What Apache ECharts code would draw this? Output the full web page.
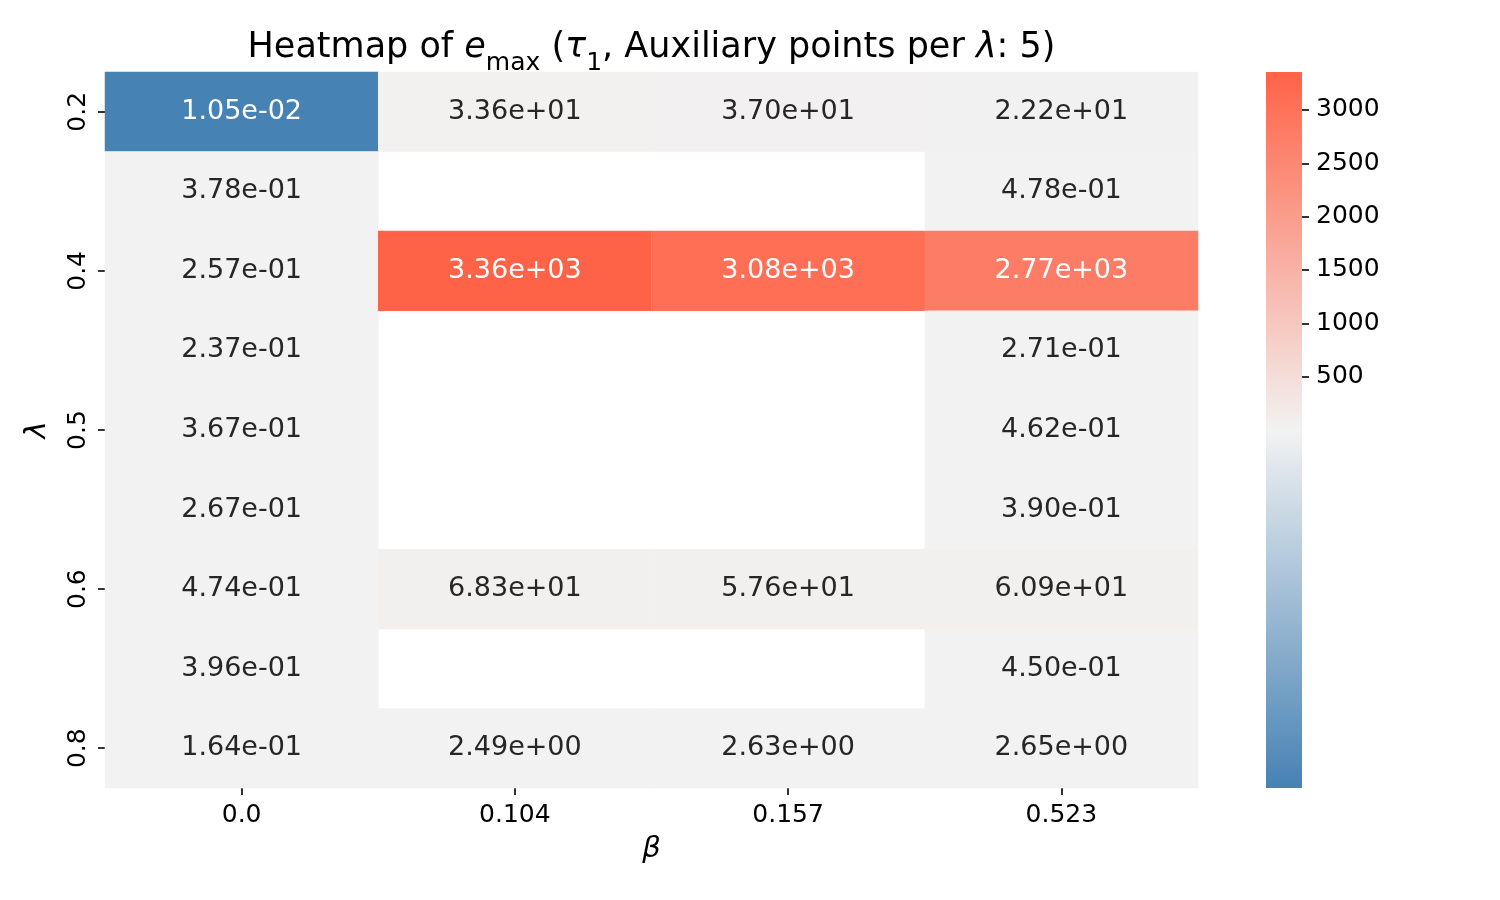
<!DOCTYPE html>
<html><head><meta charset="utf-8">
<script src="https://cdn.jsdelivr.net/npm/echarts@6/dist/echarts.min.js"></script>
<style>html,body{margin:0;padding:0;background:#fff}#chart{width:1500px;height:900px}</style>
</head><body><div id="chart"></div>
<script>
// ---- data ----
const betaLabels = ['0.0', '0.104', '0.157', '0.523'];
const lambdaLabels = ['0.2', '0.25', '0.4', '0.416', '0.5', '0.583', '0.6', '0.75', '0.8'];
// e_max per beta column, rows follow lambdaLabels (null = no value)
const emaxBeta0000 = [1.05e-2, 0.378, 0.257, 0.237, 0.367, 0.267, 0.474, 0.396, 0.164];
const emaxBeta0104 = [33.6, null, 3356, null, null, null, 68.3, null, 2.49];
const emaxBeta0157 = [37.0, null, 3080, null, null, null, 57.6, null, 2.63];
const emaxBeta0523 = [22.2, 0.478, 2770, 0.271, 0.462, 0.390, 60.9, 0.450, 2.65];
const colorbarTicks = [500, 1000, 1500, 2000, 2500, 3000];
const normCenter = 0.1;

const columns = [emaxBeta0000, emaxBeta0104, emaxBeta0157, emaxBeta0523];
const allVals = columns.flat().filter(v => v !== null);
const vmin = Math.min(...allVals), vmax = Math.max(...allVals);
function norm(v) {
  if (v <= normCenter) return 0.5 * (v - vmin) / (normCenter - vmin);
  return 0.5 + 0.5 * (v - normCenter) / (vmax - normCenter);
}
const cLow = [70, 130, 180], cMid = [242, 242, 242], cHigh = [255, 99, 71];
function hex(c) { return '#' + c.map(x => Math.round(x).toString(16).padStart(2, '0')).join(''); }
function cmap(t) {
  const a = t < 0.5 ? cLow : cMid, b = t < 0.5 ? cMid : cHigh, u = t < 0.5 ? t / 0.5 : (t - 0.5) / 0.5;
  return a.map((x, i) => x + (b[i] - x) * u);
}
function lum(c) {
  const l = c.map(x => { x /= 255; return x <= 0.03928 ? x / 12.92 : Math.pow((x + 0.055) / 1.055, 2.4); });
  return 0.2126 * l[0] + 0.7152 * l[1] + 0.0722 * l[2];
}
function fmt(v) {
  return v.toExponential(2).replace(/e([+-])(\d)$/, 'e$10$2');
}
const cells = [];
columns.forEach((col, xi) => col.forEach((v, yi) => {
  if (v === null) return;
  const n = norm(v);
  cells.push({ value: [xi, yi, v, n], label: { color: lum(cmap(n)) < 0.408 ? '#ffffff' : '#262626' } });
}));

const FONT = 'DejaVu Sans';
const chart = echarts.init(document.getElementById('chart'), null, { renderer: 'canvas' });
chart.setOption({
  animation: false,
  backgroundColor: '#ffffff',
  title: {
    left: 651.5, top: 27, textAlign: 'center', padding: 0,
    text: '{n|Heatmap of }{i|e}{s|max}{n| (}{i|τ}{s|1}{n|, Auxiliary points per }{i|λ}{n|: 5)}',
    textStyle: {
      fontWeight: 'normal',
      rich: {
        n: { fontFamily: FONT, fontSize: 35, fontWeight: 'normal', color: '#000', lineHeight: 42 },
        i: { fontFamily: FONT, fontSize: 35, fontWeight: 'normal', fontStyle: 'italic', color: '#000', lineHeight: 42 },
        s: { fontFamily: FONT, fontSize: 25, fontWeight: 'normal', color: '#000', lineHeight: 42, padding: [30, 0, 0, 0] }
      }
    }
  },
  grid: [
    { left: 105, top: 72, width: 1093, height: 716 },
    { left: 1266, top: 72, width: 36, height: 716 }
  ],
  xAxis: [
    {
      type: 'category', data: betaLabels, gridIndex: 0, position: 'bottom',
      axisLine: { show: false },
      axisTick: { show: true, alignWithLabel: true, length: 7, lineStyle: { color: '#000', width: 1.6 } },
      axisLabel: { fontFamily: FONT, fontSize: 25, color: '#000', margin: 15 },
      splitLine: { show: false },
      name: 'β', nameLocation: 'middle', nameGap: 47,
      nameTextStyle: { fontFamily: FONT, fontSize: 29, fontStyle: 'italic', color: '#000' }
    },
    { type: 'category', data: [''], gridIndex: 1, show: false }
  ],
  yAxis: [
    {
      type: 'category', data: lambdaLabels, gridIndex: 0, inverse: true,
      axisLine: { show: false },
      axisTick: { show: true, alignWithLabel: true, length: 7, lineStyle: { color: '#000', width: 1.6 } },
      axisLabel: { fontFamily: FONT, fontSize: 25, color: '#000', margin: 14, rotate: 90 },
      splitLine: { show: false },
      name: 'λ', nameLocation: 'middle', nameGap: 53,
      nameTextStyle: { fontFamily: FONT, fontSize: 29, fontStyle: 'italic', color: '#000' }
    },
    {
      type: 'value', gridIndex: 1, min: 0, max: 1, position: 'right',
      axisLine: { show: false },
      splitLine: { show: false },
      axisTick: { show: true, length: 7, customValues: colorbarTicks.map(norm), lineStyle: { color: '#000', width: 1.6 } },
      axisLabel: {
        customValues: colorbarTicks.map(norm), fontFamily: FONT, fontSize: 25, color: '#000', margin: 14,
        formatter: function (val) {
          let best = colorbarTicks[0];
          colorbarTicks.forEach(t => { if (Math.abs(norm(t) - val) < Math.abs(norm(best) - val)) best = t; });
          return String(best);
        }
      }
    }
  ],
  visualMap: {
    type: 'continuous', show: false, seriesIndex: 0, dimension: 3, min: 0, max: 1,
    inRange: { color: [hex(cLow), hex(cMid), hex(cHigh)] }
  },
  series: [
    {
      type: 'heatmap', xAxisIndex: 0, yAxisIndex: 0, data: cells,
      label: { show: true, fontFamily: FONT, fontSize: 27, formatter: p => fmt(p.value[2]) },
      emphasis: { disabled: true }, silent: true
    },
    {
      type: 'bar', xAxisIndex: 1, yAxisIndex: 1, data: [1], barWidth: '100%', silent: true,
      itemStyle: {
        color: new echarts.graphic.LinearGradient(0, 0, 0, 1, [
          { offset: 0, color: hex(cHigh) }, { offset: 0.5, color: hex(cMid) }, { offset: 1, color: hex(cLow) }
        ])
      }
    }
  ]
});
</script></body></html>
